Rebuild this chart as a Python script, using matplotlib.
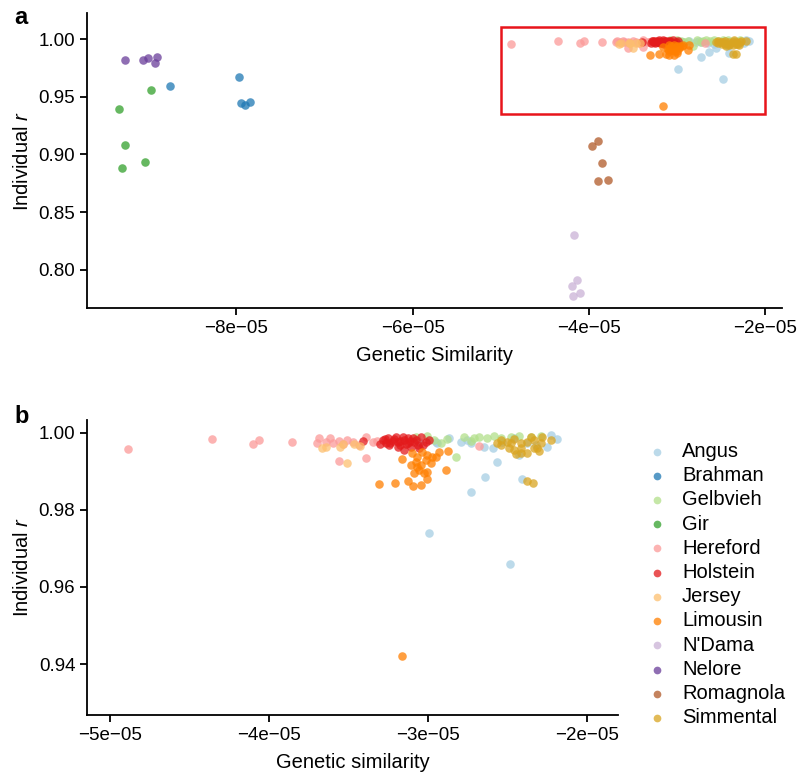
import matplotlib
matplotlib.use("Agg")
import matplotlib.pyplot as plt
import numpy as np
from matplotlib.patches import Rectangle
from matplotlib.ticker import FuncFormatter

plt.rcParams['font.family'] = ['Liberation Sans', 'DejaVu Sans']
plt.rcParams['mathtext.fontset'] = 'custom'
plt.rcParams['mathtext.it'] = 'Liberation Sans:italic'
plt.rcParams['mathtext.rm'] = 'Liberation Sans'

# genetic similarity values are given in units of 1e-5
breeds = ['Angus', 'Brahman', 'Gelbvieh', 'Gir', 'Hereford', 'Holstein',
          'Jersey', 'Limousin', "N'Dama", 'Nelore', 'Romagnola', 'Simmental']
colors = ['#a6cee3', '#1f78b4', '#b2df8a', '#33a02c', '#fb9a99', '#e31a1c',
          '#fdbf6f', '#ff7f00', '#cab2d6', '#6a3d9a', '#b15928', '#d9a420']

angus_x = [-3.056, -2.993, -2.951, -2.940, -2.867, -2.793, -2.751, -2.730, -2.646, -2.587,
           -2.564, -2.642, -2.730, -2.990, -2.484, -2.410, -2.530, -2.457, -2.373, -2.320,
           -2.247, -2.226, -2.184, -2.426]
angus_y = [0.9977, 0.9982, 0.9977, 0.9973, 0.9986, 0.9977, 0.9982, 0.9973, 0.9964, 0.9960,
           0.9924, 0.9885, 0.9846, 0.9740, 0.9659, 0.9881, 0.9977, 0.9986, 0.9973, 0.9969,
           0.9964, 0.9995, 0.9984, 0.9943]

brahman_x = [-8.748, -7.969, -7.940, -7.901, -7.841]
brahman_y = [0.9593, 0.9671, 0.9443, 0.9428, 0.9454]

gelbvieh_x = [-3.077, -3.003, -2.919, -2.877, -2.823, -2.772, -2.709, -2.678, -2.625, -2.583,
              -2.541, -2.478, -2.426, -2.352, -2.289, -2.963, -2.730]
gelbvieh_y = [0.9990, 0.9992, 0.9973, 0.9984, 0.9938, 0.9990, 0.9986, 0.9990, 0.9986, 0.9992,
              0.9986, 0.9990, 0.9992, 0.9989, 0.9992, 0.9982, 0.9979]

gir_x = [-8.960, -9.330, -9.259, -9.028, -9.296]
gir_y = [0.9561, 0.9391, 0.9079, 0.8937, 0.8880]

hereford_x = [-4.886, -4.357, -4.098, -4.061, -3.852, -3.695, -3.682, -3.644, -3.613, -3.600,
              -3.562, -3.531, -3.506, -3.468, -3.436, -3.392, -3.348, -3.317, -3.556, -3.386,
              -2.680, -3.266]
hereford_y = [0.9958, 0.9984, 0.9971, 0.9982, 0.9977, 0.9974, 0.9987, 0.9977, 0.9987, 0.9974,
              0.9979, 0.9971, 0.9982, 0.9977, 0.9969, 0.9990, 0.9977, 0.9979, 0.9927, 0.9935,
              0.9966, 0.9977]

holstein_x = [-3.405, -3.285, -3.253, -3.235, -3.216, -3.190, -3.172, -3.153, -3.127, -3.108,
              -3.090, -3.064, -3.153, -3.190, -3.222, -3.247, -3.127, -3.096, -3.159, -3.045,
              -3.014, -3.033, -3.266, -3.203, -3.140, -3.077, -3.058, -3.178, -3.115, -3.298,
              -2.995, -3.272]
holstein_y = [0.9979, 0.9982, 0.9987, 0.9974, 0.9984, 0.9977, 0.9969, 0.9982, 0.9974, 0.9964,
              0.9977, 0.9969, 0.9956, 0.9964, 0.9979, 0.9969, 0.9987, 0.9987, 0.9990, 0.9990,
              0.9977, 0.9969, 0.9974, 0.9990, 0.9971, 0.9982, 0.9961, 0.9979, 0.9979, 0.9971,
              0.9982, 0.9984]

jersey_x = [-3.663, -3.550, -3.537, -3.506, -3.462, -3.424, -3.638]
jersey_y = [0.9961, 0.9964, 0.9971, 0.9922, 0.9971, 0.9966, 0.9964]

limousin_x = [-3.161, -3.098, -3.066, -3.035, -3.003, -2.972, -3.077, -3.045, -3.014, -2.982,
              -3.057, -3.088, -3.025, -3.003, -2.951, -2.930, -2.871, -2.883, -3.008, -3.127,
              -3.205, -3.306, -3.092, -3.041, -3.066, -3.108, -3.162]
limousin_y = [0.9932, 0.9947, 0.9938, 0.9951, 0.9943, 0.9938, 0.9925, 0.9917, 0.9930, 0.9921,
              0.9904, 0.9895, 0.9895, 0.9899, 0.9938, 0.9951, 0.9954, 0.9903, 0.9881, 0.9876,
              0.9870, 0.9866, 0.9862, 0.9864, 0.9912, 0.9917, 0.9420]

ndama_x = [-4.176, -4.137, -4.194, -4.187, -4.108]
ndama_y = [0.8303, 0.7913, 0.7855, 0.7768, 0.7798]

nelore_x = [-9.262, -9.051, -9.001, -8.896, -8.915]
nelore_y = [0.9824, 0.9818, 0.9835, 0.9850, 0.9798]

romagnola_x = [-3.896, -3.964, -3.850, -3.896, -3.780]
romagnola_y = [0.9117, 0.9073, 0.8926, 0.8770, 0.8779]

simmental_x = [-2.541, -2.499, -2.457, -2.415, -2.373, -2.331, -2.289, -2.457, -2.415, -2.373,
               -2.331, -2.300, -2.446, -2.478, -2.352, -2.278, -2.373, -2.337, -2.226, -2.541,
               -2.562, -2.489, -2.415, -2.310]
simmental_y = [0.9982, 0.9977, 0.9984, 0.9973, 0.9977, 0.9980, 0.9973, 0.9956, 0.9960, 0.9947,
               0.9960, 0.9954, 0.9945, 0.9973, 0.9990, 0.9989, 0.9874, 0.9871, 0.9982, 0.9969,
               0.9973, 0.9960, 0.9947, 0.9960]

xs = [angus_x, brahman_x, gelbvieh_x, gir_x, hereford_x, holstein_x,
      jersey_x, limousin_x, ndama_x, nelore_x, romagnola_x, simmental_x]
ys = [angus_y, brahman_y, gelbvieh_y, gir_y, hereford_y, holstein_y,
      jersey_y, limousin_y, ndama_y, nelore_y, romagnola_y, simmental_y]


def sci_fmt(v, pos):
    return '{:.0e}'.format(v).replace('-', '\u2212')


def style_axis(ax):
    ax.spines['top'].set_visible(False)
    ax.spines['right'].set_visible(False)
    ax.spines['left'].set_linewidth(1.3)
    ax.spines['bottom'].set_linewidth(1.3)
    ax.tick_params(labelsize=13.5, width=1.3, length=5)
    ax.xaxis.set_major_formatter(FuncFormatter(sci_fmt))


fig = plt.figure(figsize=(7.99, 7.83), dpi=100)
ax_a = fig.add_axes([0.109, 0.607, 0.870, 0.376])
ax_b = fig.add_axes([0.109, 0.087, 0.665, 0.377])

for i in range(len(breeds)):
    x = np.array(xs[i]) * 1e-5
    y = np.array(ys[i])
    ax_a.scatter(x, y, s=38, color=colors[i], alpha=0.75, linewidths=0)
    ax_b.scatter(x, y, s=38, color=colors[i], alpha=0.75, linewidths=0, label=breeds[i])

# panel a
ax_a.set_xlim(-9.69e-5, -1.81e-5)
ax_a.set_ylim(0.767, 1.0225)
ax_a.set_xticks([-8e-5, -6e-5, -4e-5, -2e-5])
ax_a.set_yticks([0.80, 0.85, 0.90, 0.95, 1.00])
ax_a.yaxis.set_major_formatter(FuncFormatter(lambda v, p: '{:.2f}'.format(v)))
style_axis(ax_a)
ax_a.add_patch(Rectangle((-5e-5, 0.935), 3e-5, 0.0754, fill=False,
                         edgecolor='#e8141b', linewidth=1.8))
ax_a.set_xlabel('Genetic Similarity', fontsize=14.5, labelpad=7)
ax_a.set_ylabel(r'Individual $\mathit{r}$', fontsize=14.5, labelpad=5)

# panel b
ax_b.set_xlim(-5.145e-5, -1.80e-5)
ax_b.set_ylim(0.9268, 1.0034)
ax_b.set_xticks([-5e-5, -4e-5, -3e-5, -2e-5])
ax_b.set_yticks([0.94, 0.96, 0.98, 1.00])
ax_b.yaxis.set_major_formatter(FuncFormatter(lambda v, p: '{:.2f}'.format(v)))
style_axis(ax_b)
ax_b.set_xlabel('Genetic similarity', fontsize=14.5, labelpad=7)
ax_b.set_ylabel(r'Individual $\mathit{r}$', fontsize=14.5, labelpad=5)

leg = ax_b.legend(loc='upper left', bbox_to_anchor=(0.800, 0.446), bbox_transform=fig.transFigure,
                  frameon=False, fontsize=14.5, handlelength=1.0, handletextpad=0.72,
                  labelspacing=0.26, borderaxespad=0, markerscale=0.9)

fig.text(0.018, 0.978, 'a', fontsize=17, fontweight='bold', va='center')
fig.text(0.018, 0.468, 'b', fontsize=17, fontweight='bold', va='center')

fig.savefig('out.png', dpi=100)
